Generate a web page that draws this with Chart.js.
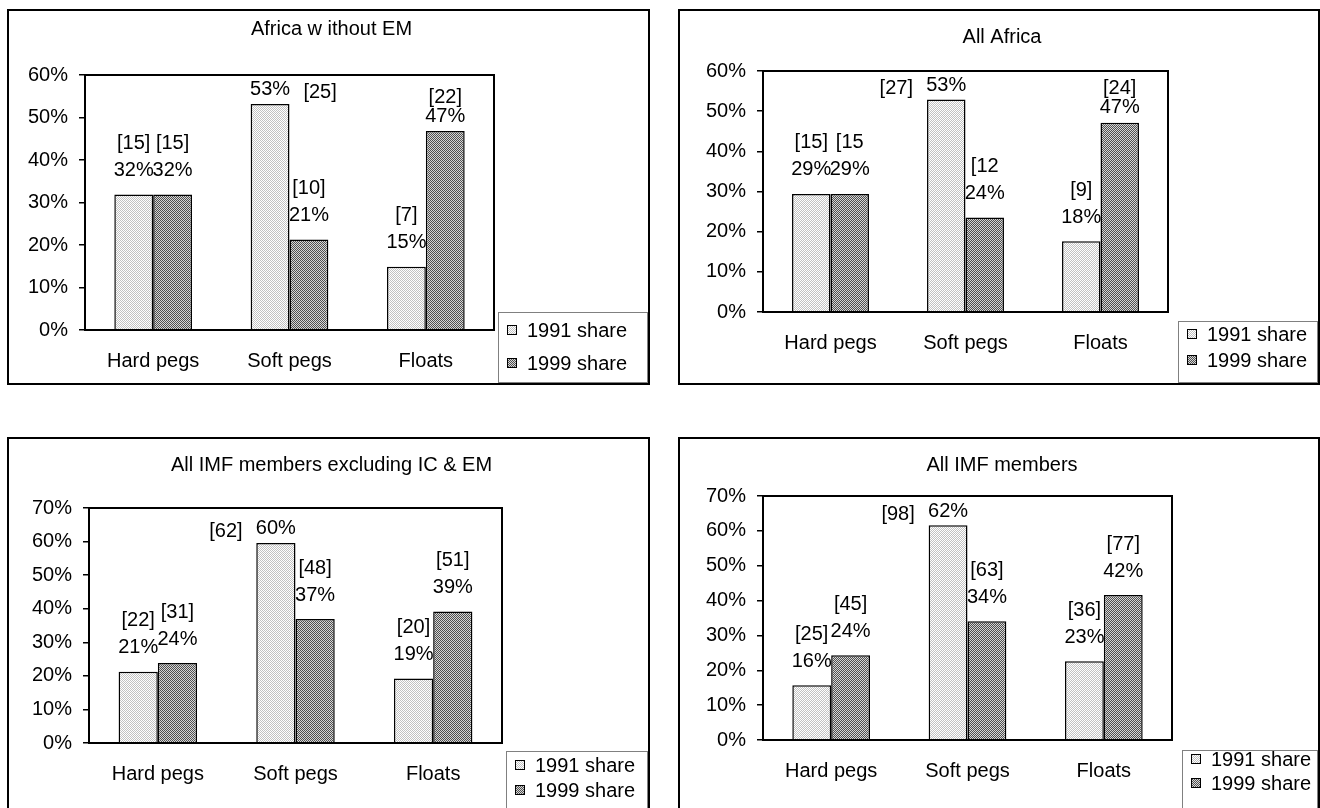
<!DOCTYPE html>
<html>
<head>
<meta charset="utf-8">
<script src="https://cdn.jsdelivr.net/npm/chart.js@4.4.1/dist/chart.umd.min.js"></script>
<style>
  html, body { margin: 0; padding: 0; background: #fff; width: 1320px; height: 808px; overflow: hidden; }
  .panel { position: absolute; border: 2px solid #000; box-sizing: border-box; background: #fff; }
  .panel canvas { display: block; }
</style>
</head>
<body>
<div class="panel" style="left:7px;top:9px;width:643px;height:376px"><canvas id="noEm" width="639" height="372"></canvas></div>
<div class="panel" style="left:678px;top:9px;width:642px;height:376px"><canvas id="allAfrica" width="638" height="372"></canvas></div>
<div class="panel" style="left:7px;top:437px;width:643px;height:380px"><canvas id="imfExIcEm" width="639" height="376"></canvas></div>
<div class="panel" style="left:678px;top:437px;width:642px;height:380px"><canvas id="imfAll" width="638" height="376"></canvas></div>

<script>
// Categories and series
const categories = ['Hard pegs', 'Soft pegs', 'Floats'];
const seriesNames = ['1991 share', '1999 share'];

// Africa without EM
const noEm1991 = [31.9, 53.2, 14.9];
const noEm1999 = [31.9, 21.3, 46.8];
const noEmCounts1991 = ['[15]', '[25]', '[7]'];
const noEmCounts1999 = ['[15]', '[10]', '[22]'];

// All Africa
const africa1991 = [29.4, 52.9, 17.6];
const africa1999 = [29.4, 23.5, 47.1];
const africaCounts1991 = ['[15]', '[27]', '[9]'];
const africaCounts1999 = ['[15', '[12', '[24]'];

// All IMF members excluding IC & EM
const exIcEm1991 = [21.2, 59.6, 19.2];
const exIcEm1999 = [23.8, 36.9, 39.2];
const exIcEmCounts1991 = ['[22]', '[62]', '[20]'];
const exIcEmCounts1999 = ['[31]', '[48]', '[51]'];

// All IMF members
const imf1991 = [15.7, 61.6, 22.6];
const imf1999 = [24.3, 34.1, 41.6];
const imfCounts1991 = ['[25]', '[98]', '[36]'];
const imfCounts1999 = ['[45]', '[63]', '[77]'];

const FONT = '"Liberation Sans", Arial, sans-serif';
Chart.defaults.font.family = FONT;
Chart.defaults.font.size = 20;
Chart.defaults.color = '#000';

// dotted fills like the old Excel patterns
function makePattern(base, dot) {
  const c = document.createElement('canvas');
  c.width = 2; c.height = 2;
  const g = c.getContext('2d');
  g.fillStyle = base; g.fillRect(0, 0, 2, 2);
  g.fillStyle = dot; g.fillRect(0, 0, 1, 1); g.fillRect(1, 1, 1, 1);
  return g.createPattern(c, 'repeat');
}
const fill1991 = makePattern('#ffffff', '#c2c2c2');
const fill1999 = makePattern('#d6d6d6', '#505050');

const panelDecor = {
  id: 'panelDecor',
  afterDatasetsDraw(chart, args, opts) {
    const ctx = chart.ctx;
    const area = chart.chartArea;
    ctx.save();
    ctx.font = '20px ' + FONT;
    ctx.fillStyle = '#000';
    ctx.textAlign = 'center';
    ctx.textBaseline = 'middle';
    chart.data.datasets.forEach((ds, di) => {
      const meta = chart.getDatasetMeta(di);
      meta.data.forEach((bar, i) => {
        const pct = Math.round(ds.data[i]) + '%';
        let py, cy, cx = bar.x;
        if (bar.y - 61 >= area.top) { py = bar.y - 24; cy = bar.y - 51; }
        else if (bar.y - 44 >= area.top) { py = bar.y - 15; cy = bar.y - 34; }
        else { py = bar.y - 14; cy = py + 3; cx = bar.x + (opts.crowdSide === 'right' ? 50 : -50); }
        ctx.fillText(pct, bar.x, py);
        ctx.fillText(ds.counts[i], cx, cy);
      });
    });
    ctx.restore();
  },
  afterDraw(chart, args, opts) {
    const ctx = chart.ctx;
    const area = chart.chartArea;
    ctx.save();
    // plot area frame
    ctx.strokeStyle = '#000';
    ctx.lineWidth = 2;
    ctx.strokeRect(area.left, area.top, area.right - area.left, area.bottom - area.top);
    // title
    ctx.fillStyle = '#000';
    ctx.font = '20px ' + FONT;
    ctx.textAlign = 'center';
    ctx.textBaseline = 'middle';
    ctx.fillText(opts.title, chart.width / 2 + 3, opts.titleY);
    // legend box
    const lg = opts.legend;
    ctx.strokeStyle = '#808080';
    ctx.lineWidth = 1;
    ctx.strokeRect(lg.left + 0.5, lg.top + 0.5, chart.width - lg.left - 1, chart.height - lg.top - 1);
    ctx.font = '20px ' + FONT;
    ctx.textAlign = 'left';
    chart.data.datasets.forEach((ds, di) => {
      const y = lg.top + lg.rows[di];
      ctx.fillStyle = ds.backgroundColor;
      ctx.fillRect(lg.left + 9, y - 5, 10, 10);
      ctx.strokeStyle = '#000';
      ctx.strokeRect(lg.left + 9.5, y - 4.5, 9, 9);
      ctx.fillStyle = '#000';
      ctx.fillText(ds.label, lg.left + 29, y + 1);
    });
    ctx.restore();
  }
};

function makePanel(id, cfg) {
  const canvas = document.getElementById(id);
  const W = canvas.width, H = canvas.height;
  const plot = cfg.plot;
  new Chart(canvas, {
    type: 'bar',
    data: {
      labels: categories,
      datasets: [
        { label: seriesNames[0], data: cfg.v1991, counts: cfg.c1991, backgroundColor: fill1991,
          borderColor: '#000', borderWidth: 1.5 },
        { label: seriesNames[1], data: cfg.v1999, counts: cfg.c1999, backgroundColor: fill1999,
          borderColor: '#000', borderWidth: 1.5 }
      ]
    },
    options: {
      responsive: false,
      animation: false,
      devicePixelRatio: 1,
      layout: { padding: { left: 0, top: plot.top, right: W - plot.right, bottom: 0 } },
      datasets: { bar: { categoryPercentage: 0.57, barPercentage: 1.0 } },
      scales: {
        x: {
          grid: { display: false, drawTicks: false },
          border: { display: true, color: '#000', width: 2 },
          ticks: { padding: 19, font: { size: 20 } },
          afterFit(s) { s.height = H - plot.bottom; }
        },
        y: {
          min: 0,
          max: cfg.max,
          ticks: { stepSize: 10, padding: 11, font: { size: 20 }, callback: v => v + '%' },
          grid: { drawOnChartArea: false, drawTicks: true, tickLength: 6, color: '#000', lineWidth: 1.5 },
          border: { display: true, color: '#000', width: 2 },
          afterFit(s) { s.width = plot.left; }
        }
      },
      plugins: {
        legend: { display: false },
        tooltip: { enabled: false },
        panelDecor: { title: cfg.title, titleY: cfg.titleY, legend: cfg.legend, crowdSide: cfg.crowdSide }
      }
    },
    plugins: [panelDecor]
  });
}

makePanel('noEm', {
  title: 'Africa w ithout EM', max: 60,
  v1991: noEm1991, v1999: noEm1999, c1991: noEmCounts1991, c1999: noEmCounts1999,
  plot: { left: 76, top: 64, right: 485, bottom: 319 }, titleY: 18,
  legend: { left: 489, top: 301, rows: [18, 51] }, crowdSide: 'right'
});
makePanel('allAfrica', {
  title: 'All Africa', max: 60,
  v1991: africa1991, v1999: africa1999, c1991: africaCounts1991, c1999: africaCounts1999,
  plot: { left: 83, top: 60, right: 488, bottom: 301 }, titleY: 26,
  legend: { left: 498, top: 310, rows: [13, 39] }, crowdSide: 'left'
});
makePanel('imfExIcEm', {
  title: 'All IMF members excluding IC & EM', max: 70,
  v1991: exIcEm1991, v1999: exIcEm1999, c1991: exIcEmCounts1991, c1999: exIcEmCounts1999,
  plot: { left: 80, top: 69, right: 493, bottom: 304 }, titleY: 26,
  legend: { left: 497, top: 312, rows: [14, 39] }, crowdSide: 'left'
});
makePanel('imfAll', {
  title: 'All IMF members', max: 70,
  v1991: imf1991, v1999: imf1999, c1991: imfCounts1991, c1999: imfCounts1999,
  plot: { left: 83, top: 57, right: 492, bottom: 301 }, titleY: 26,
  legend: { left: 502, top: 311, rows: [9, 33] }, crowdSide: 'left'
});
</script>
</body>
</html>
